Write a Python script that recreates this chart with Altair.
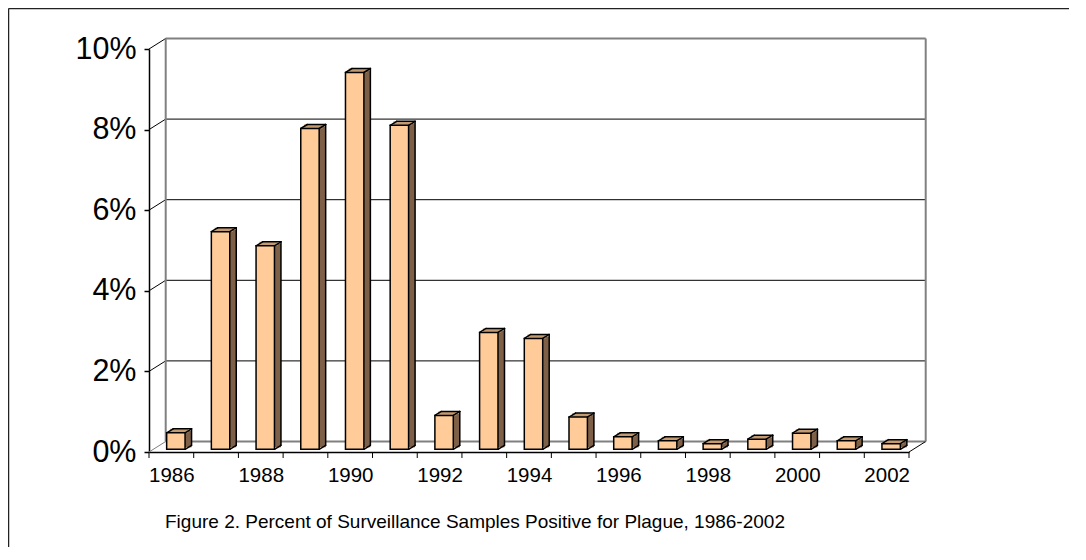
import altair as alt
import pandas as pd

# ---- data ----
years = list(range(1986, 2003))
pct = [0.41, 5.40, 5.05, 7.96, 9.35, 8.04, 0.84, 2.90, 2.75, 0.80,
       0.31, 0.21, 0.14, 0.25, 0.40, 0.21, 0.14]
y_ticks = [0, 2, 4, 6, 8, 10]
x_labels = [1986, 1988, 1990, 1992, 1994, 1996, 1998, 2000, 2002]
title_text = "Figure 2. Percent of Surveillance Samples Positive for Plague, 1986-2002"

# ---- geometry / style ----
W, H = 760, 403
X0, X1 = 1985.5, 2002.5
YMAX = 10.0
PX = (X1 - X0) / W        # data units per pixel (x)
PY = YMAX / H             # data units per pixel (y)
WALL_DX, WALL_DY = 16.7, 10.5   # depth of the 3-D box (px)
BAR_C, BAR_HW, BAR_LIFT = 4.5, 9.2, 2.7
BAR_DX, BAR_DY = 6.5, 4.0
FONT = "Liberation Sans"

XS = alt.Scale(domain=[X0, X1], nice=False, zero=False)
YS = alt.Scale(domain=[0, YMAX], nice=False, zero=False)
XAX = alt.Axis(values=x_labels, format="d", ticks=False, grid=False, domainColor="black",
               domainWidth=1.5, labelFontSize=20.5, labelFont=FONT, labelColor="black",
               labelPadding=13, labelOverlap=False, labelFlush=False, title=None)
YAX = alt.Axis(values=y_ticks, labelExpr="datum.value + '%'", ticks=True, tickSize=5,
               tickColor="black", tickWidth=1.5, grid=False, domainColor="black",
               domainWidth=1.5, labelFontSize=30.5, labelFont=FONT, labelColor="black",
               labelPadding=8, labelOverlap=False, labelFlush=False, title=None)

# bars: front face, side face, top face and their edges
rows_front, rows_side, rows_top, rows_edge = [], [], [], []
for yr, v in zip(years, pct):
    L = yr + (BAR_C - BAR_HW) * PX
    R = yr + (BAR_C + BAR_HW) * PX
    B = BAR_LIFT * PY
    T = v + BAR_LIFT * PY
    ddx, ddy = BAR_DX * PX, BAR_DY * PY
    rows_front.append(dict(year=yr, L=L, R=R, B=B, T=T))
    rows_side.append(dict(year=yr, x=R, x2=R + ddx, y=B + ddy / 2, y2=T + ddy / 2))
    rows_top.append(dict(year=yr, x=L + ddx / 2, x2=R + ddx / 2, y=T, y2=T + ddy))
    rows_edge += [
        dict(x=L + ddx, x2=R + ddx, y=T + ddy, y2=T + ddy),
        dict(x=L, x2=L + ddx, y=T, y2=T + ddy),
        dict(x=R, x2=R + ddx, y=T, y2=T + ddy),
        dict(x=R + ddx, x2=R + ddx, y=T + ddy, y2=B + ddy),
        dict(x=R, x2=R + ddx, y=B, y2=B + ddy),
    ]
front_df = pd.DataFrame(rows_front)
side_df = pd.DataFrame(rows_side)
top_df = pd.DataFrame(rows_top)
edge_bar_df = pd.DataFrame(rows_edge)

wdx, wdy = WALL_DX * PX, WALL_DY * PY
grid_df = pd.DataFrame([dict(x=X0 + wdx, x2=X1 + wdx, y=v + wdy, y2=v + wdy,
                             c=("#808080" if v in (0, 10) else "#000000"),
                             w=(2.0 if v in (0, 10) else 1.0)) for v in y_ticks])
diag_df = pd.DataFrame([dict(x=X0, x2=X0 + wdx, y=v, y2=v + wdy,
                             c=("#808080" if v == 0 else "#000000")) for v in y_ticks]
                       + [dict(x=X1, x2=X1 + wdx, y=0, y2=wdy, c="#000000")])
edge_df = pd.DataFrame([dict(x=X0 + wdx, x2=X0 + wdx, y=wdy, y2=YMAX + wdy),
                        dict(x=X1 + wdx, x2=X1 + wdx, y=wdy, y2=YMAX + wdy)])
tick_df = pd.DataFrame([dict(x=X0 + k, y=0, y2=-6 * PY) for k in range(len(years) + 1)])
one = pd.DataFrame({"a": [0]})

def ex(f):
    return alt.X(f, type="quantitative", scale=XS, axis=XAX)

def ey(f):
    return alt.Y(f, type="quantitative", scale=YS, axis=YAX)

grid = alt.Chart(grid_df).mark_rule().encode(
    x=ex("x"), x2="x2", y=ey("y"), y2="y2",
    color=alt.Color("c:N", scale=None), strokeWidth=alt.StrokeWidth("w:Q", scale=None))
diag = alt.Chart(diag_df).mark_rule(strokeWidth=1).encode(
    x=ex("x"), x2="x2", y=ey("y"), y2="y2", color=alt.Color("c:N", scale=None))
edges = alt.Chart(edge_df).mark_rule(color="#808080", strokeWidth=2).encode(
    x=ex("x"), x2="x2", y=ey("y"), y2="y2")
ticks = alt.Chart(tick_df).mark_rule(color="black", strokeWidth=1).encode(
    x=ex("x"), y=ey("y"), y2="y2")

side = alt.Chart(side_df).mark_rect(fill="#7d6047", strokeWidth=0).encode(
    x=ex("x"), x2="x2", y=ey("y"), y2="y2")
top = alt.Chart(top_df).mark_rect(fill="#c49a70", strokeWidth=0).encode(
    x=ex("x"), x2="x2", y=ey("y"), y2="y2")
bar_edges = alt.Chart(edge_bar_df).mark_rule(color="black", strokeWidth=1.5,
                                             strokeCap="round").encode(
    x=ex("x"), x2="x2", y=ey("y"), y2="y2")
front = alt.Chart(front_df).mark_rect(fill="#FFCC99", stroke="black", strokeWidth=1.5).encode(
    x=ex("L"), x2="R", y=ey("B"), y2="T")

frame_left = alt.Chart(one).mark_rule(color="#222222", strokeWidth=1.5).encode(
    x=alt.value(-140.5), y=alt.value(-40.5), y2=alt.value(H + 120))
frame_top = alt.Chart(one).mark_rule(color="#222222", strokeWidth=1.5).encode(
    x=alt.value(-140.5), x2=alt.value(W + 200), y=alt.value(-40.5))
title = alt.Chart(one).mark_text(text=title_text, align="left", baseline="alphabetic",
                                 fontSize=19, font=FONT, color="black").encode(
    x=alt.value(16), y=alt.value(479))

chart = alt.layer(grid, diag, edges, ticks, side, top, bar_edges, front,
                  frame_left, frame_top, title).properties(
    width=W, height=H,
    autosize=alt.AutoSizeParams(type="none"),
    padding={"left": 141, "top": 41, "right": 160, "bottom": 95},
    background="white",
).configure_view(stroke=None)

chart.save("out.html", embed_options={"renderer": "svg", "actions": False})
